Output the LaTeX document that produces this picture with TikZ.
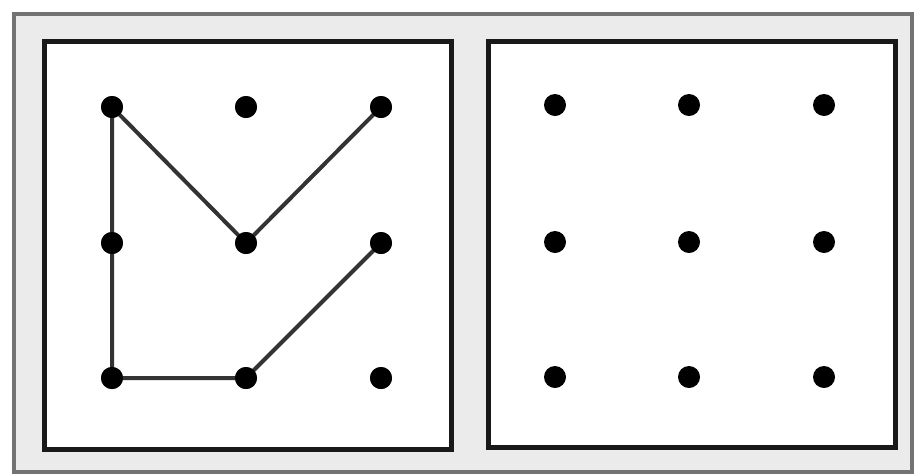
\documentclass[tikz,border=0pt]{standalone}
\begin{document}
\begin{tikzpicture}[x=1pt,y=-1pt,
  dot/.style={circle,fill=black,inner sep=0pt,minimum size=22pt},
  box/.style={draw=black!90,line width=5pt,fill=white},
  seg/.style={draw=black!80,line width=4pt}]
\useasboundingbox (0,0) rectangle (919,475);
\fill[white] (0,0) rectangle (919,475);
\draw[draw=black!55,line width=4pt,fill=black!8] (14,14) rectangle (912,472);
\draw[box] (44,41) rectangle (451,449);
\draw[box] (488,41) rectangle (895,447);
\foreach \i/\x in {1/112,2/246,3/381}{
  \foreach \j/\y in {1/107,2/243,3/378}{
    \node[dot] (L\i\j) at (\x,\y) {};
  }
}
\foreach \i/\x in {1/555,2/689,3/824}{
  \foreach \j/\y in {1/105,2/242,3/377}{
    \node[dot] (R\i\j) at (\x,\y) {};
  }
}
\draw[seg] (L11.center) -- (L13.center) -- (L23.center) -- (L32.center);
\draw[seg] (L11.center) -- (L22.center) -- (L31.center);
\foreach \i in {1,2,3}{\foreach \j in {1,2,3}{\fill (L\i\j) circle (11pt);}}
\end{tikzpicture}
\end{document}
